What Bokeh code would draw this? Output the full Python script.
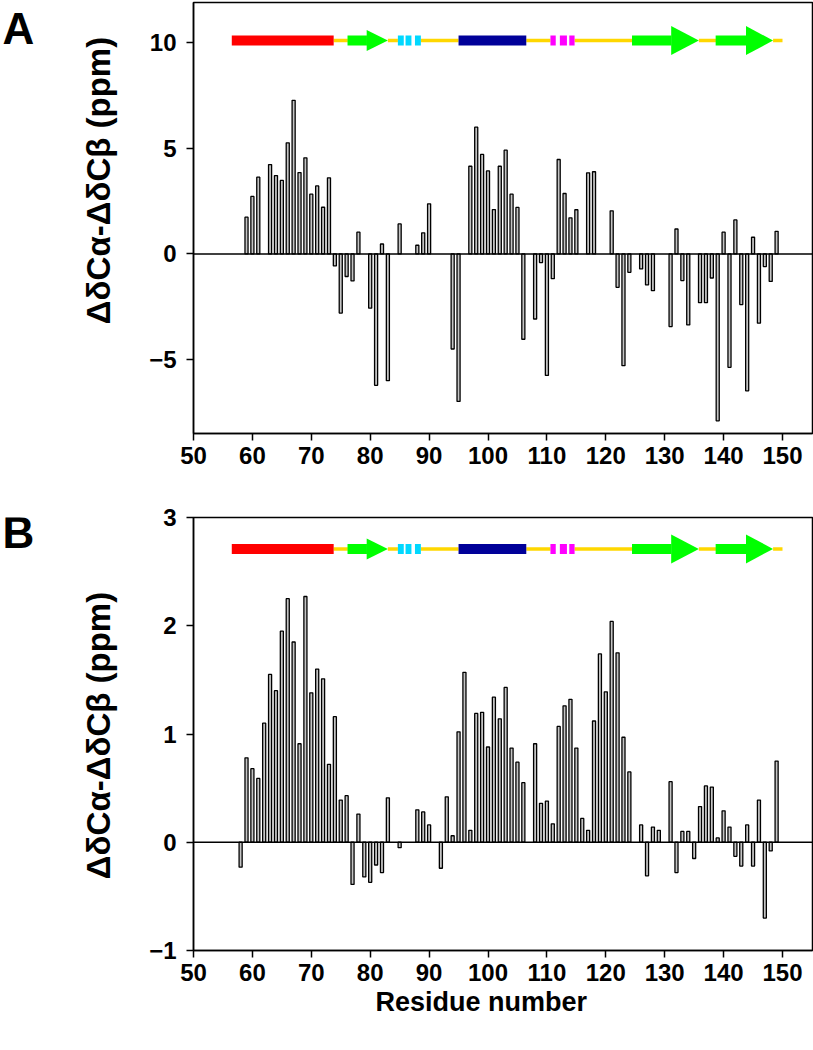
import math
from bokeh.plotting import figure
from bokeh.layouts import column, row
from bokeh.models import FixedTicker, Span, Range1d, Title
from bokeh.core.properties import value
from bokeh.embed import file_html
from bokeh.resources import INLINE

# ---------------- data ----------------
res_a = [59, 60, 61, 63, 64, 65, 66, 67, 68, 69, 70, 71, 72, 73, 74, 75, 76, 77, 78,
         80, 81, 82, 83, 85, 88, 89, 90, 94, 95, 97, 98, 99, 100, 101, 102, 103, 104,
         105, 106, 108, 109, 110, 111, 112, 113, 114, 115, 117, 118, 121, 122, 123, 124,
         126, 127, 128, 131, 132, 133, 134, 136, 137, 138, 139, 140, 141, 142, 143, 144,
         145, 146, 147, 148, 149]
dd_a = [1.74, 2.72, 3.63, 4.23, 3.71, 3.48, 5.26, 7.27, 3.85, 4.55, 2.83, 3.22, 2.21, 3.60,
        -0.57, -2.80, -1.07, -1.28, 1.03, -2.57, -6.22, 0.47, -6.0, 1.42, 0.41, 1.0, 2.37,
        -4.5, -6.98, 4.15, 6.0, 4.71, 3.93, 2.10, 4.15, 4.91, 2.83, 2.2, -4.04, -3.08, -0.41,
        -5.75, -1.17, 4.47, 2.86, 1.71, 2.09, 3.84, 3.89, 2.04, -1.58, -5.29, -0.87, -0.71,
        -1.47, -1.74, -3.44, 1.18, -1.26, -3.36, -2.31, -2.31, -1.14, -7.9, 1.03, -5.37,
        1.61, -2.4, -6.48, 0.79, -3.28, -0.6, -1.3, 1.07]

res_b = [58, 59, 60, 61, 62, 63, 64, 65, 66, 67, 68, 69, 70, 71, 72, 73, 74, 75, 76, 77,
         78, 79, 80, 81, 82, 83, 85, 88, 89, 90, 92, 93, 94, 95, 96, 97, 98, 99, 100, 101,
         102, 103, 104, 105, 106, 108, 109, 110, 111, 112, 113, 114, 115, 116, 117, 118,
         119, 120, 121, 122, 123, 124, 126, 127, 128, 129, 131, 132, 133, 134, 135, 136,
         137, 138, 139, 140, 141, 142, 143, 144, 145, 146, 147, 148, 149]
dd_b = [-0.23, 0.78, 0.68, 0.59, 1.10, 1.55, 1.40, 1.95, 2.25, 1.85, 0.91, 2.27, 1.38, 1.60,
        1.51, 0.72, 1.16, 0.39, 0.43, -0.39, 0.26, -0.32, -0.37, -0.21, -0.28, 0.41, -0.05,
        0.30, 0.28, 0.16, -0.24, 0.42, 0.06, 1.02, 1.57, 0.11, 1.19, 1.20, 0.88, 1.34, 1.14,
        1.43, 0.87, 0.74, 0.55, 0.91, 0.36, 0.38, 0.17, 1.07, 1.26, 1.32, 0.87, 0.22, 0.11,
        1.12, 1.74, 1.39, 2.04, 1.75, 0.97, 0.65, 0.16, -0.31, 0.14, 0.11, 0.56, -0.28, 0.10,
        0.10, -0.15, 0.33, 0.52, 0.51, 0.04, 0.29, 0.14, -0.13, -0.22, 0.16, -0.22, 0.39,
        -0.70, -0.08, 0.75]

x_ticks = [50, 60, 70, 80, 90, 100, 110, 120, 130, 140, 150]
y_ticks_a = [-5, 0, 5, 10]
y_ticks_b = [-1, 0, 1, 2, 3]

# secondary structure (residue numbers)
helix_start = [56.5, 95.0]
helix_end = [73.8, 106.5]
strand_start = [76.2, 124.5, 138.7]
strand_head = [79.4, 131.1, 143.8]
strand_end = [83.0, 135.8, 148.4]
cyan_start = [84.7, 86.0, 87.6]
cyan_end = [85.7, 87.0, 88.6]
magenta_start = [110.6, 112.2, 113.8]
magenta_end = [111.5, 113.4, 114.7]
chain_end = 150.0

# ---------------- style ----------------
FONT = "Liberation Sans"
HELIX_COLORS = ["#ff0000", "#000099"]
GREEN = "#00ff00"
CYAN = "#00d8ff"
MAGENTA = "#ff00ff"
COIL = "#ffd700"
HEAD_PX = [21, 29, 29]
BODY_PX = 10
PX_PER_RES = 5.89
X0 = 50
FRAME_W = 619
X1 = X0 + FRAME_W / PX_PER_RES
SIDE_W = 120
YLABEL = "ΔδCα-ΔδCβ (ppm)"


def coil_segments():
    blocks = [(s, e) for s, e in zip(helix_start, helix_end)]
    blocks += [(s, e) for s, e in zip(strand_start, strand_end)]
    blocks.append((min(cyan_start), max(cyan_end)))
    blocks.append((min(magenta_start), max(magenta_end)))
    blocks.sort()
    x0s, x1s = [], []
    for (s1, e1), (s2, e2) in zip(blocks[:-1], blocks[1:]):
        x0s.append(e1)
        x1s.append(s2)
    x0s.append(blocks[-1][1])
    x1s.append(chain_end)
    return x0s, x1s


def side_panel(frame_h, top_b, bottom_b, letter, letter_y, label_y):
    # same vertical geometry as the matching data panel; y measured down from frame top
    s = figure(frame_width=SIDE_W, frame_height=frame_h,
               x_range=Range1d(0, SIDE_W), y_range=Range1d(frame_h, 0),
               x_axis_type=None, y_axis_type=None, title=None,
               output_backend="svg", toolbar_location=None,
               min_border_left=0, min_border_right=0,
               min_border_top=top_b, min_border_bottom=bottom_b)
    s.grid.visible = False
    s.outline_line_color = None
    s.text(x=[2], y=[letter_y], text=[letter],
           text_font=value(FONT), text_font_style="bold", text_font_size="44px",
           text_color="black", text_baseline="middle", text_align="left")
    s.text(x=[98], y=[label_y], text=[YLABEL], angle=math.pi / 2,
           text_font=value(FONT), text_font_style="bold", text_font_size="33px",
           text_color="black", text_baseline="middle", text_align="center")
    return s


def make_panel(res, vals, yr, yticks, ss_y, frame_h, top_b, bottom_b, xlabel=None):
    p = figure(frame_width=FRAME_W, frame_height=frame_h,
               x_range=Range1d(X0, X1), y_range=Range1d(*yr), title=None,
               output_backend="svg", toolbar_location=None,
               min_border_left=193 - SIDE_W, min_border_right=1,
               min_border_top=top_b, min_border_bottom=bottom_b)
    p.grid.visible = False
    p.outline_line_color = "black"
    p.outline_line_width = 1.5
    p.outline_line_alpha = 1.0
    p.background_fill_color = "white"
    p.border_fill_color = "white"

    for ax, ticks in ((p.xaxis, x_ticks), (p.yaxis, yticks)):
        ax.ticker = FixedTicker(ticks=ticks)
        ax.axis_line_width = 1.5
        ax.axis_line_color = "black"
        ax.major_tick_line_width = 1.5
        ax.major_tick_line_color = "black"
        ax.major_tick_out = 7
        ax.major_tick_in = 0
        ax.minor_tick_out = 0
        ax.minor_tick_in = 0
        ax.major_label_text_font = FONT
        ax.major_label_text_font_style = "bold"
        ax.major_label_text_font_size = "24px"
        ax.major_label_text_color = "black"
    p.xaxis.major_label_standoff = 6
    p.yaxis.major_label_standoff = 10
    if xlabel:
        p.add_layout(Title(text=xlabel, align="left", offset=182, standoff=3,
                           text_font=FONT, text_font_style="bold",
                           text_font_size="27px", text_color="black"), "below")

    # bars
    p.vbar(x=res, top=vals, bottom=0, width=0.52, fill_color="#c4c4c4",
           line_color="black", line_width=1.3)
    p.add_layout(Span(location=0, dimension="width", line_color="black",
                      line_width=1.5))

    # secondary structure
    px_per_y = frame_h / (yr[1] - yr[0])
    cx0, cx1 = coil_segments()
    p.segment(x0=cx0, y0=[ss_y] * len(cx0), x1=cx1, y1=[ss_y] * len(cx1),
              line_color=COIL, line_width=3.5)
    p.rect(x=[(s + e) / 2 for s, e in zip(helix_start, helix_end)],
           y=[ss_y] * len(helix_start),
           width=[e - s for s, e in zip(helix_start, helix_end)],
           height=BODY_PX, height_units="screen",
           fill_color=HELIX_COLORS, line_color=None)
    for starts, ends, col in ((cyan_start, cyan_end, CYAN),
                              (magenta_start, magenta_end, MAGENTA)):
        p.rect(x=[(s + e) / 2 for s, e in zip(starts, ends)],
               y=[ss_y] * len(starts),
               width=[e - s for s, e in zip(starts, ends)],
               height=BODY_PX, height_units="screen",
               fill_color=col, line_color=None)
    p.rect(x=[(s + h) / 2 for s, h in zip(strand_start, strand_head)],
           y=[ss_y] * len(strand_start),
           width=[h - s + 0.1 for s, h in zip(strand_start, strand_head)],
           height=BODY_PX, height_units="screen",
           fill_color=GREEN, line_color=None)
    xs, ys = [], []
    for h, e, hp in zip(strand_head, strand_end, HEAD_PX):
        hh = hp / 2 / px_per_y
        xs.append([h, h, e])
        ys.append([ss_y - hh, ss_y + hh, ss_y])
    p.patches(xs=xs, ys=ys, fill_color=GREEN, line_color=None)
    return p


pa = make_panel(res_a, dd_a, (-8.5, 11.9), y_ticks_a, 10.1, 431, 2, 54)
pb = make_panel(res_b, dd_b, (-1.0, 3.0), y_ticks_b, 2.71, 433, 30, 85,
                xlabel="Residue number")

sa = side_panel(431, 2, 54, "A", 25.5, 178)
sb = side_panel(433, 30, 85, "B", 15, 218)

layout = column(row(sa, pa, spacing=0), row(sb, pb, spacing=0), spacing=0)
open("out.html", "w").write(file_html(layout, INLINE))
